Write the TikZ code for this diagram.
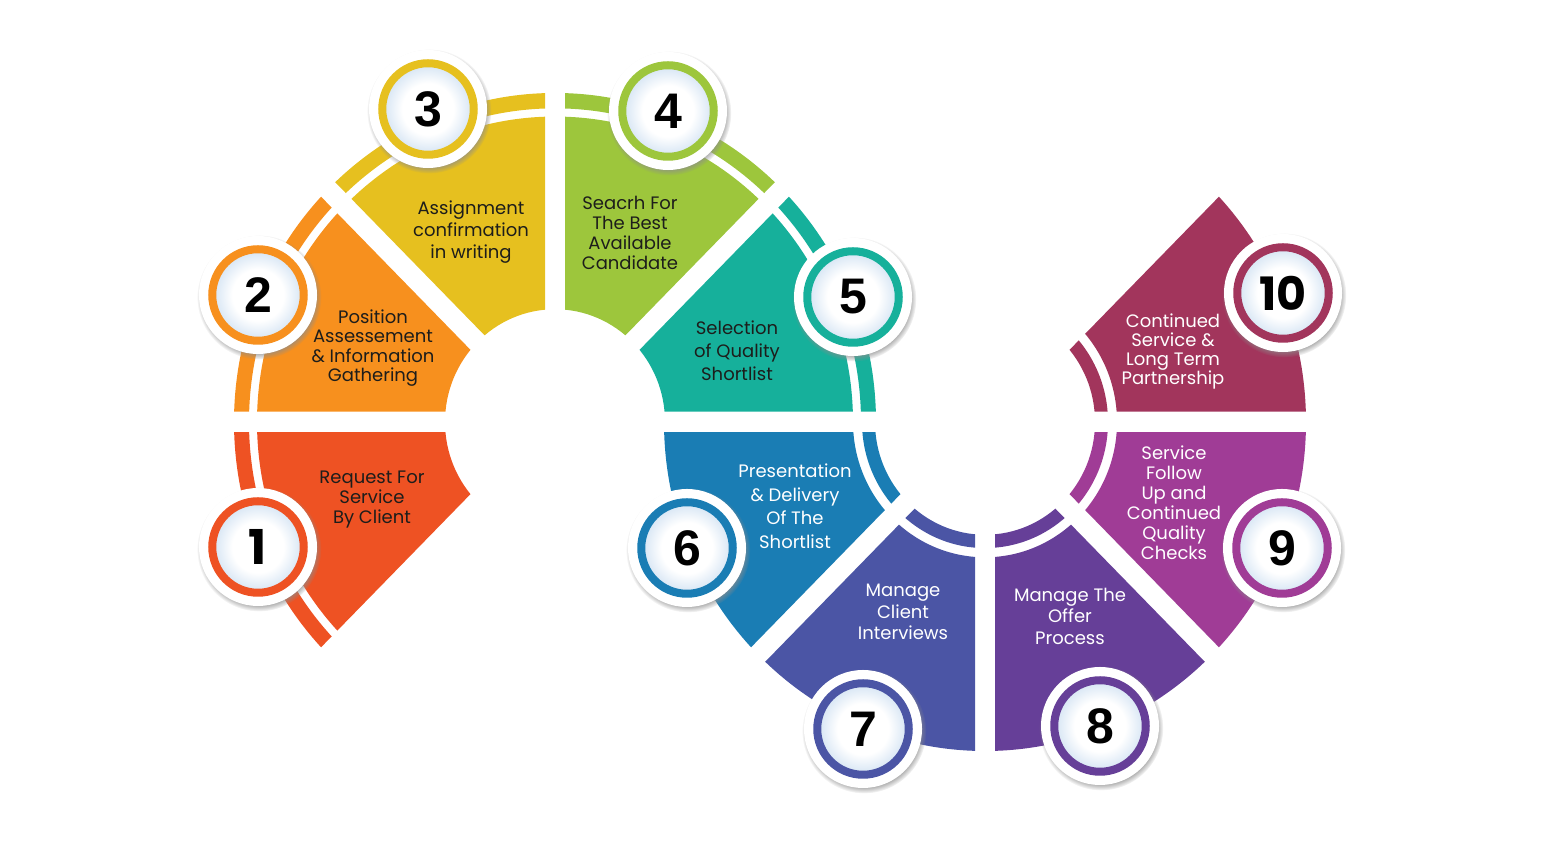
\documentclass[tikz,border=0pt]{standalone}
\usepackage{fontspec}
\setmainfont{Poppins}
\newfontfamily\numfont{Liberation Sans}
\usetikzlibrary{
  calc, % for the wedge corners
  shadows % soft shadow under the number discs
}

\definecolor{seg1}{HTML}{EE5223}
\definecolor{seg2}{HTML}{F7901E}
\definecolor{seg3}{HTML}{E6C01F}
\definecolor{seg4}{HTML}{9DC63C}
\definecolor{seg5}{HTML}{16B09B}
\definecolor{seg6}{HTML}{1A7DB4}
\definecolor{seg7}{HTML}{4B55A5}
\definecolor{seg8}{HTML}{663F98}
\definecolor{seg9}{HTML}{A03C96}
\definecolor{seg10}{HTML}{A2355C}
\definecolor{ink}{HTML}{1D1D1B}
\definecolor{glow}{HTML}{D3E3F3}

\pgfdeclareradialshading{numglow}{\pgfpoint{0bp}{0bp}}{color(0bp)=(white); color(14bp)=(white); color(25bp)=(glow); color(50bp)=(glow)}

\begin{document}
\begin{tikzpicture}[
      x=0.5pt, y=0.5pt, % one unit = one pixel of the sketch
      lbl/.style={align=center, text=ink, font=\fontsize{9}{#1}\selectfont}, % step text
      lbl/.default=10,
      numring/.style={circle, minimum size=45.75pt, inner sep=0pt,
        circular drop shadow={shadow scale=1.36, shadow xshift=0.4pt, shadow yshift=-0.8pt, fill=black!45},
        preaction={draw=white, line width=13.25pt},
        draw=#1, line width=4pt, shading=numglow, text=black,
        font=\numfont\bfseries\fontsize{25}{25}\selectfont}, % numbered disc
    ]

    \useasboundingbox (0,0) rectangle (1543,845);

    \def\gap{26.13} % apex shift, gives a 20px gap between the wedges

    % upper ring: steps 1 to 5, band on the outside
    \foreach \a/\col in {180/seg1, 135/seg2, 90/seg3, 45/seg4, 0/seg5}{
      \pgfmathsetmacro\mid{\a+22.5}
      \pgfmathsetmacro\b{\a+45}
      \begin{scope}[shift={(555,423)}, yscale=1.025]
        \clip (\mid:\gap) -- +(\a:500) -- +(\b:500) -- cycle;
        \fill[\col, even odd rule] (0,0) circle[radius=321] circle[radius=306]
          circle[radius=298] circle[radius=110];
      \end{scope}
    }

    % lower ring: steps 6 to 10, band on the inside
    \foreach \a/\col in {180/seg6, 225/seg7, 270/seg8, 315/seg9, 0/seg10}{
      \pgfmathsetmacro\mid{\a+22.5}
      \pgfmathsetmacro\b{\a+45}
      \begin{scope}[shift={(985,423)}, yscale=1.025]
        \clip (\mid:\gap) -- +(\a:500) -- +(\b:500) -- cycle;
        \fill[\col, even odd rule] (0,0) circle[radius=321] circle[radius=132]
          circle[radius=123] circle[radius=110];
      \end{scope}
    }

    % number discs
    \node[numring=seg1, font=\bfseries\fontsize{24}{24}\selectfont] (n1) at (258,298) {1};
    \node[numring=seg2] (n2) at (258,550) {2};
    \node[numring=seg3] (n3) at (428,736) {3};
    \node[numring=seg4] (n4) at (668,734) {4};
    \node[numring=seg5] (n5) at (853,548) {5};
    \node[numring=seg6] (n6) at (687,297) {6};
    \node[numring=seg7] (n7) at (863,116) {7};
    \node[numring=seg8] (n8) at (1100,119) {8};
    \node[numring=seg9] (n9) at (1282,297) {9};
    \node[numring=seg10, font=\bfseries\fontsize{23}{23}\selectfont] (n10) at (1283,552) {10};

    % step texts
    \node[lbl] (t1) at (372,345) {Request For\\Service\\By Client};
    \node[lbl=9.75] (t2) at (373,497) {Position\\Assessement\\\& Information\\Gathering};
    \node[lbl=11] (t3) at (471,613) {Assignment\\confirmation\\in writing};
    \node[lbl] (t4) at (630,612) {Seacrh For\\The Best\\Available\\Candidate};
    \node[lbl=11.5] (t5) at (737,494) {Selection\\of Quality\\Shortlist};
    \node[lbl=11.75, text=white] (t6) at (795,339) {Presentation\\\& Delivery\\Of The\\Shortlist};
    \node[lbl=10.75, text=white] (t7) at (903,233) {Manage\\Client\\Interviews};
    \node[lbl=10.75, text=white] (t8) at (1070,229) {Manage The\\Offer\\Process};
    \node[lbl, text=white] (t9) at (1174,342) {Service\\Follow\\Up and\\Continued\\Quality\\Checks};
    \node[lbl=9.5, text=white] (t10) at (1173,493) {Continued\\Service \&\\Long Term\\Partnership};

  \end{tikzpicture}
\end{document}
